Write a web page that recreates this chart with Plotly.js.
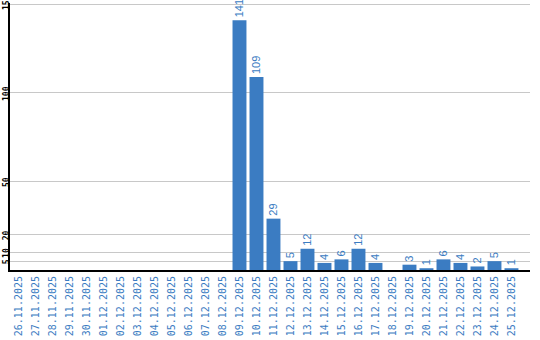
<!DOCTYPE html>
<html><head><meta charset="utf-8">
<script src="https://cdn.plot.ly/plotly-3.0.1.min.js"></script>
<style>html,body{margin:0;padding:0;background:#fff}#c{width:540px;height:340px}</style>
</head><body><div id="c"></div>
<script>
const dates = ["26.11.2025","27.11.2025","28.11.2025","29.11.2025","30.11.2025","01.12.2025","02.12.2025","03.12.2025","04.12.2025","05.12.2025","06.12.2025","07.12.2025","08.12.2025","09.12.2025","10.12.2025","11.12.2025","12.12.2025","13.12.2025","14.12.2025","15.12.2025","16.12.2025","17.12.2025","18.12.2025","19.12.2025","20.12.2025","21.12.2025","22.12.2025","23.12.2025","24.12.2025","25.12.2025"];
const counts = [0,0,0,0,0,0,0,0,0,0,0,0,0,141,109,29,5,12,4,6,12,4,0,3,1,6,4,2,5,1];
const yTicks = [5,10,20,50,100,150];
const yTickText = ["5","10","20","50","100","15"];
const labels = counts.map(v => v > 0 ? String(v) : "");
const blue = "#3b7cc2";
Plotly.newPlot("c", [{
  type: "bar", x: dates, y: counts, text: labels,
  textposition: "outside", textangle: -90, cliponaxis: false, constraintext: "none",
  textfont: {family: "Liberation Sans", size: 11, color: blue},
  marker: {color: blue}, hoverinfo: "none"
}], {
  width: 540, height: 340,
  margin: {l: 10, r: 10, t: 3, b: 70},
  paper_bgcolor: "#fff", plot_bgcolor: "#fff",
  bargap: 0.18, showlegend: false,
  xaxis: {type: "category", range: [-0.5, 30.09], tickangle: -90, showgrid: false,
    tickfont: {family: "DejaVu Sans Mono", size: 10, color: blue},
    showline: true, linecolor: "#000", linewidth: 2, ticks: "", automargin: false},
  yaxis: {range: [0, 150.8], tickvals: yTicks, ticktext: yTickText, tickangle: -90,
    tickfont: {family: "DejaVu Sans Mono", size: 8, color: "#000", weight: "bold"},
    gridcolor: "#c8c8c8", gridwidth: 1, zeroline: false, ticklabeloverflow: "allow",
    showline: true, linecolor: "#000", linewidth: 2, ticks: "", automargin: false, ticklabelstandoff: -4, ticklabelshift: 2}
}, {staticPlot: true});
</script></body></html>
